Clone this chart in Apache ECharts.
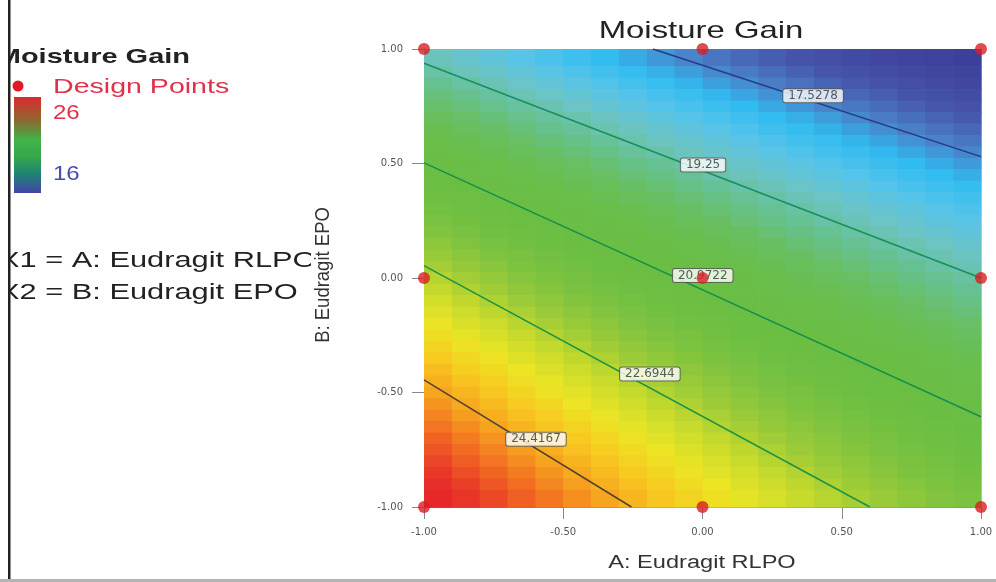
<!DOCTYPE html>
<html><head><meta charset="utf-8">
<script src="https://cdn.jsdelivr.net/npm/echarts@6/dist/echarts.min.js"></script>
<style>html,body{margin:0;padding:0;background:#fff}#c{width:996px;height:582px}</style>
</head><body><div id="c"></div>
<script>
// ---- data ----
const xCenters = [-0.95,-0.85,-0.75,-0.65,-0.55,-0.45,-0.35,-0.25,-0.15,-0.05,0.05,0.15,0.25,0.35,0.45,0.55,0.65,0.75,0.85,0.95];
const yCenters = [0.95,0.9,0.85,0.8,0.75,0.7,0.65,0.6,0.55,0.5,0.45,0.4,0.35,0.3,0.25,0.2,0.15,0.1,0.05,0.0,
  -0.05,-0.1,-0.15,-0.2,-0.25,-0.3,-0.35,-0.4,-0.45,-0.5,-0.55,-0.6,-0.65,-0.7,-0.75,-0.8,-0.85,-0.9,-0.95];
const gainRows = [
 [19.08,18.90,18.72,18.54,18.36,18.19,18.02,17.86,17.70,17.54,17.38,17.23,17.08,16.94,16.79,16.65,16.52,16.39,16.26,16.13],
 [19.29,19.11,18.93,18.75,18.57,18.40,18.22,18.06,17.90,17.74,17.58,17.43,17.28,17.13,16.98,16.84,16.71,16.58,16.45,16.32],
 [19.50,19.31,19.13,18.95,18.77,18.60,18.42,18.26,18.09,17.93,17.77,17.62,17.47,17.32,17.17,17.03,16.89,16.76,16.63,16.50],
 [19.71,19.52,19.34,19.15,18.97,18.80,18.62,18.46,18.29,18.13,17.97,17.81,17.66,17.51,17.36,17.22,17.08,16.94,16.81,16.68],
 [19.91,19.72,19.54,19.35,19.17,18.99,18.82,18.65,18.48,18.32,18.16,18.00,17.84,17.69,17.55,17.40,17.26,17.12,16.99,16.86],
 [20.12,19.92,19.74,19.55,19.37,19.19,19.02,18.84,18.67,18.51,18.35,18.19,18.03,17.88,17.73,17.58,17.44,17.30,17.17,17.04],
 [20.32,20.12,19.93,19.75,19.56,19.38,19.21,19.03,18.86,18.70,18.53,18.37,18.21,18.06,17.91,17.76,17.62,17.48,17.34,17.21],
 [20.52,20.32,20.13,19.95,19.76,19.58,19.40,19.22,19.05,18.89,18.72,18.56,18.40,18.24,18.09,17.94,17.80,17.66,17.52,17.38],
 [20.71,20.52,20.33,20.14,19.95,19.77,19.59,19.41,19.24,19.07,18.90,18.74,18.58,18.42,18.27,18.12,17.97,17.83,17.69,17.55],
 [20.91,20.72,20.52,20.33,20.14,19.96,19.78,19.60,19.43,19.25,19.08,18.92,18.76,18.60,18.45,18.30,18.15,18.00,17.86,17.72],
 [21.10,20.91,20.71,20.52,20.33,20.14,19.96,19.78,19.61,19.43,19.26,19.10,18.94,18.78,18.62,18.47,18.32,18.17,18.03,17.89],
 [21.30,21.10,20.90,20.71,20.52,20.33,20.15,19.97,19.79,19.61,19.44,19.28,19.12,18.95,18.80,18.64,18.49,18.34,18.20,18.06],
 [21.49,21.29,21.09,20.89,20.70,20.51,20.33,20.15,19.97,19.79,19.62,19.45,19.29,19.12,18.97,18.81,18.66,18.51,18.36,18.22],
 [21.68,21.48,21.28,21.08,20.89,20.69,20.51,20.33,20.15,19.97,19.80,19.63,19.46,19.30,19.14,18.98,18.83,18.68,18.53,18.39],
 [21.86,21.66,21.46,21.26,21.07,20.87,20.69,20.50,20.32,20.14,19.97,19.80,19.63,19.47,19.30,19.15,18.99,18.84,18.69,18.55],
 [22.05,21.85,21.64,21.44,21.25,21.05,20.87,20.68,20.50,20.32,20.14,19.97,19.80,19.64,19.47,19.31,19.16,19.00,18.85,18.71],
 [22.23,22.03,21.82,21.62,21.42,21.23,21.04,20.85,20.67,20.49,20.31,20.14,19.97,19.80,19.63,19.47,19.32,19.16,19.01,18.86],
 [22.42,22.21,22.00,21.80,21.60,21.41,21.22,21.03,20.84,20.66,20.48,20.31,20.14,19.97,19.80,19.63,19.48,19.32,19.17,19.02],
 [22.60,22.39,22.18,21.98,21.78,21.58,21.39,21.20,21.01,20.83,20.65,20.47,20.30,20.13,19.96,19.79,19.63,19.48,19.32,19.17],
 [22.78,22.57,22.36,22.15,21.95,21.75,21.56,21.37,21.18,21.00,20.81,20.63,20.46,20.29,20.12,19.95,19.79,19.64,19.48,19.33],
 [22.95,22.74,22.53,22.32,22.12,21.92,21.72,21.53,21.34,21.16,20.97,20.79,20.62,20.44,20.27,20.11,19.95,19.79,19.63,19.48],
 [23.13,22.91,22.70,22.49,22.29,22.09,21.89,21.70,21.51,21.32,21.13,20.95,20.78,20.60,20.43,20.27,20.10,19.94,19.78,19.63],
 [23.30,23.08,22.87,22.66,22.46,22.25,22.06,21.86,21.67,21.48,21.29,21.11,20.93,20.76,20.58,20.42,20.25,20.09,19.93,19.77],
 [23.47,23.25,23.04,22.83,22.63,22.42,22.22,22.02,21.83,21.64,21.45,21.27,21.09,20.91,20.74,20.57,20.40,20.24,20.08,19.92],
 [23.64,23.42,23.21,23.00,22.79,22.58,22.38,22.18,21.99,21.80,21.61,21.42,21.24,21.06,20.89,20.72,20.55,20.38,20.22,20.06],
 [23.81,23.59,23.38,23.16,22.95,22.74,22.54,22.34,22.15,21.95,21.76,21.58,21.39,21.21,21.04,20.87,20.70,20.53,20.36,20.20],
 [23.97,23.75,23.54,23.32,23.11,22.90,22.70,22.50,22.30,22.10,21.91,21.73,21.54,21.36,21.18,21.01,20.84,20.67,20.50,20.34],
 [24.14,23.92,23.70,23.48,23.27,23.06,22.86,22.65,22.45,22.26,22.06,21.88,21.69,21.51,21.33,21.15,20.98,20.81,20.64,20.48],
 [24.30,24.08,23.86,23.64,23.43,23.22,23.01,22.80,22.60,22.41,22.21,22.02,21.84,21.65,21.47,21.29,21.12,20.95,20.78,20.62],
 [24.46,24.24,24.02,23.80,23.59,23.37,23.16,22.96,22.75,22.56,22.36,22.17,21.98,21.80,21.61,21.43,21.26,21.09,20.92,20.76],
 [24.62,24.39,24.17,23.95,23.74,23.52,23.31,23.11,22.90,22.70,22.51,22.31,22.12,21.94,21.75,21.57,21.40,21.22,21.05,20.89],
 [24.78,24.55,24.33,24.11,23.89,23.67,23.46,23.26,23.05,22.85,22.65,22.46,22.26,22.08,21.89,21.71,21.54,21.36,21.19,21.02],
 [24.93,24.70,24.48,24.26,24.04,23.82,23.61,23.40,23.19,22.99,22.79,22.60,22.40,22.21,22.03,21.84,21.67,21.49,21.32,21.15],
 [25.09,24.86,24.63,24.41,24.19,23.97,23.76,23.55,23.34,23.13,22.93,22.74,22.54,22.35,22.16,21.98,21.80,21.62,21.45,21.28],
 [25.24,25.01,24.78,24.55,24.33,24.11,23.90,23.69,23.48,23.27,23.07,22.87,22.68,22.48,22.29,22.11,21.93,21.75,21.57,21.40],
 [25.39,25.16,24.93,24.70,24.48,24.26,24.04,23.83,23.62,23.41,23.21,23.01,22.81,22.62,22.43,22.24,22.06,21.88,21.70,21.53],
 [25.54,25.30,25.07,24.85,24.62,24.40,24.18,23.97,23.76,23.55,23.34,23.14,22.94,22.75,22.56,22.37,22.18,22.00,21.82,21.65],
 [25.69,25.45,25.22,24.99,24.76,24.54,24.32,24.11,23.90,23.68,23.48,23.27,23.07,22.88,22.69,22.50,22.31,22.13,21.94,21.77],
 [25.83,25.59,25.36,25.13,24.90,24.68,24.46,24.24,24.03,23.81,23.61,23.40,23.20,23.00,22.81,22.62,22.43,22.25,22.06,21.89]
];
const designPoints = [[-1,1],[0,1],[1,1],[-1,0],[0,0],[1,0],[-1,-1],[0,-1],[1,-1]];
const contourLevels = ['17.5278','19.25','20.9722','22.6944','24.4167'];
const contourLines = [
 [[-0.178,1],[1,0.53]],
 [[-1,0.9375],[1,0.0]],
 [[-1,0.503],[1,-0.606]],
 [[-1,0.054],[0.601,-1]],
 [[-1,-0.445],[-0.255,-1]]
];
const contourLabelPos = [[0.397,0.796],[0.002,0.493],[0.001,0.011],[-0.189,-0.419],[-0.598,-0.704]];
const colorScaleMin = 16, colorScaleMax = 26;
const legendMaxLabel = '26', legendMinLabel = '16';

// ---- styling ----
const rampColors = ['#3c3e98','#4146a0','#4656aa','#4a80c8','#30bcf0','#56c4ea','#6cc4c4','#66c190','#68bf60','#6abe4a','#6abe44','#6ebf42','#7ec340','#9ccb38','#c8db2c','#ece524','#f8c820','#f6a21f','#f26c22','#e93a28','#e41e2a'];
const contourColors = ['#263a86','#16905a','#15904a','#1b9244','#53402e'];
const FONT = '"Liberation Sans", Arial, sans-serif';
const X_HALF = 0.05;

const cells = [];
gainRows.forEach((row, i) => row.forEach((v, j) => cells.push([xCenters[j], yCenters[i], v, i])));
function rowTop(i) { return i === 0 ? 1 : (yCenters[i - 1] + yCenters[i]) / 2; }
function rowBottom(i) { return i === yCenters.length - 1 ? -1 : (yCenters[i] + yCenters[i + 1]) / 2; }

const chart = echarts.init(document.getElementById('c'), null, {renderer: 'canvas'});
const axisCommon = {
  type: 'value', min: -1, max: 1, interval: 0.5,
  axisLine: {show: true, onZero: false, lineStyle: {color: '#777', width: 1}},
  axisTick: {show: true, length: 12, lineStyle: {color: '#888'}},
  axisLabel: {formatter: v => v.toFixed(2), fontSize: 10, fontFamily: '"DejaVu Sans", sans-serif', color: '#555'},
  splitLine: {show: false}
};
const series = [{
  type: 'custom', coordinateSystem: 'cartesian2d', z: 1, silent: true,
  data: cells, encode: {x: 0, y: 1},
  renderItem: (params, api) => {
    const x = api.value(0), i = api.value(3);
    const p1 = api.coord([x - X_HALF, rowTop(i)]);
    const p2 = api.coord([x + X_HALF, rowBottom(i)]);
    return {type: 'rect', shape: {x: p1[0], y: p1[1], width: p2[0] - p1[0] + 0.7, height: p2[1] - p1[1] + 0.7},
      style: {fill: api.visual('color')}};
  }
}];
contourLines.forEach((pts, k) => series.push({
  type: 'line', data: pts, showSymbol: false, silent: true, z: 3,
  lineStyle: {color: contourColors[k], width: 1.5}
}));
series.push({
  type: 'scatter', z: 4, silent: true, symbolSize: 1,
  itemStyle: {color: 'rgba(0,0,0,0)'},
  data: contourLabelPos,
  label: {show: true, position: 'inside', formatter: p => contourLevels[p.dataIndex],
    fontSize: 12, fontFamily: '"DejaVu Sans", sans-serif', color: '#333',
    backgroundColor: '#fff', borderColor: '#555', borderWidth: 1, borderRadius: 2, padding: [1, 5, 0, 5]}
});
series.push({
  type: 'scatter', z: 5, silent: true, symbolSize: 12, data: designPoints,
  itemStyle: {color: '#d81e24'}
});

function txt(x, y, text, size, opts) {
  opts = opts || {};
  return {type: 'text', x: x, y: y, scaleX: opts.sx || 1, scaleY: opts.sy || 1, rotation: opts.rot || 0, z: opts.z || 10,
    style: {text: text, fontSize: size, fontFamily: FONT, fontWeight: opts.bold ? 'bold' : 'normal',
      fill: opts.color || '#222', align: opts.align || 'left', verticalAlign: 'middle',
      textAlign: opts.align || 'left', textVerticalAlign: 'middle'}};
}

chart.setOption({
  animation: false,
  grid: {left: 424, top: 49, width: 557, height: 458, show: false},
  xAxis: Object.assign({}, axisCommon, {axisLabel: Object.assign({}, axisCommon.axisLabel, {margin: 20})}),
  yAxis: Object.assign({}, axisCommon, {axisLabel: Object.assign({}, axisCommon.axisLabel, {margin: 21})}),
  visualMap: {type: 'continuous', show: false, min: colorScaleMin, max: colorScaleMax, dimension: 2, seriesIndex: 0,
    inRange: {color: rampColors}},
  series: series,
  graphic: [
    txt(190, 57, 'Moisture Gain', 21, {bold: true, align: 'right', sx: 1.38}),
    {type: 'circle', shape: {cx: 18, cy: 86, r: 5.5}, style: {fill: '#e01a24'}, z: 10},
    txt(53, 87, 'Design Points', 21, {color: '#e0304a', sx: 1.36}),
    {type: 'rect', shape: {x: 14, y: 97, width: 27, height: 96}, z: 10,
      style: {fill: new echarts.graphic.LinearGradient(0, 0, 0, 1, [
        {offset: 0, color: '#dc2a2c'}, {offset: 0.25, color: '#8a6a30'}, {offset: 0.45, color: '#3fb448'},
        {offset: 0.62, color: '#36a84a'}, {offset: 0.8, color: '#1f8474'}, {offset: 1, color: '#4444a8'}])}},
    txt(53, 113, legendMaxLabel, 20, {color: '#e0304a', sx: 1.2}),
    txt(53, 174, legendMinLabel, 20, {color: '#4a4ab2', sx: 1.2}),
    txt(-1, 261, 'X1 = A: Eudragit RLPO', 22, {sx: 1.4}),
    txt(-1, 293, 'X2 = B: Eudragit EPO', 22, {sx: 1.4}),
    {type: 'rect', shape: {x: 0, y: 0, width: 8, height: 582}, style: {fill: '#fff'}, z: 11},
    {type: 'rect', shape: {x: 8, y: 0, width: 2.5, height: 582}, style: {fill: '#222'}, z: 12},
    {type: 'rect', shape: {x: 311, y: 245, width: 5, height: 60}, style: {fill: '#fff'}, z: 11},
    txt(701, 31, 'Moisture Gain', 24, {align: 'center', sx: 1.37}),
    txt(702, 563, 'A: Eudragit RLPO', 18, {align: 'center', sx: 1.31, color: '#333'}),
    txt(323, 275, 'B: Eudragit EPO', 18.5, {align: 'center', sy: 1.12, rot: Math.PI / 2, color: '#333', z: 12}),
    {type: 'rect', shape: {x: 0, y: 579, width: 996, height: 3}, style: {fill: '#b4b4b4'}, z: 12}
  ]
});
</script></body></html>
